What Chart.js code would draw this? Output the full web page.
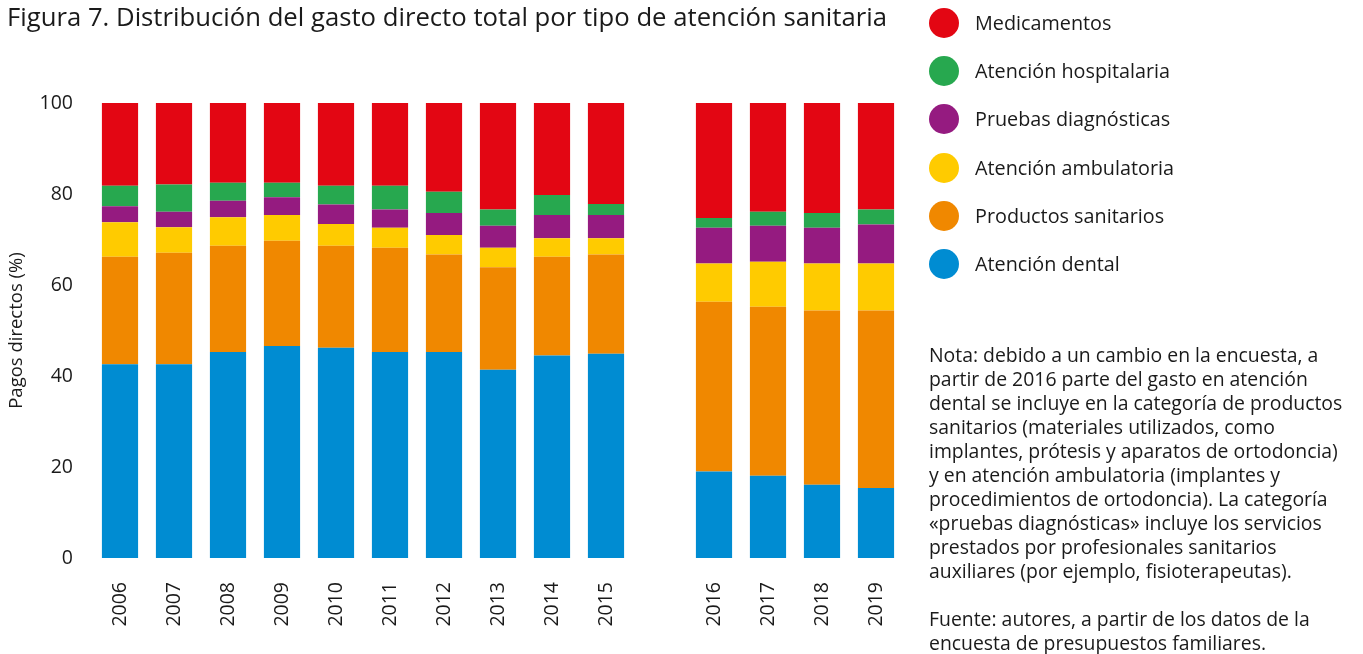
<!DOCTYPE html>
<html>
<head>
    <meta charset="utf-8" />
    <title>Figura 7</title>
    <script src="https://cdn.jsdelivr.net/npm/chart.js@4"></script>
    <style>
        body { margin: 0; background: #fff; font-family: "Open Sans", sans-serif; color: #1a1a1a; }
        #wrap { position: relative; width: 1363px; height: 654px; overflow: hidden; }
        #chart { position: absolute; left: 0; top: 0; }
        #title { position: absolute; left: 7px; top: 0px; font-size: 25.7px; line-height: 34px; white-space: nowrap; }
        #legend { position: absolute; left: 929px; top: 8px; }
        .item { height: 48.2px; display: flex; align-items: flex-start; font-size: 19.8px; line-height: 30px; white-space: nowrap; }
        .dot { width: 30px; height: 30px; border-radius: 50%; margin-right: 16px; }
        #note { position: absolute; left: 929px; top: 343px; font-size: 19.4px; line-height: 24px; white-space: pre; }
    </style>
</head>
<body>
<div id="wrap">
    <canvas id="chart" width="1363" height="654"></canvas>
    <div id="title">Figura 7. Distribución del gasto directo total por tipo de atención sanitaria</div>
    <div id="legend"></div>
    <div id="note"></div>
</div>

<script>
    // blank slot between 2015 and 2016 marks the survey change
    const years = ['2006', '2007', '2008', '2009', '2010', '2011', '2012', '2013', '2014', '2015', '', '2016', '2017', '2018', '2019'];

    const dental       = [42.6, 42.6, 45.3, 46.6, 46.2, 45.3, 45.3, 41.4, 44.5, 44.9, null, 19.0, 18.1, 16.1, 15.4];
    const productos    = [23.6, 24.5, 23.3, 23.1, 22.4, 22.9, 21.4, 22.5, 21.7, 21.8, null, 37.3, 37.1, 38.3, 39.0];
    const ambulatoria  = [7.6, 5.6, 6.3, 5.7, 4.8, 4.4, 4.3, 4.3, 4.1, 3.6, null, 8.4, 9.9, 10.3, 10.3];
    const pruebas      = [3.5, 3.4, 3.6, 3.9, 4.3, 4.0, 4.8, 4.8, 5.1, 5.1, null, 7.9, 7.9, 7.9, 8.6];
    const hospitalaria = [4.5, 6.0, 4.0, 3.2, 4.1, 5.2, 4.7, 3.6, 4.4, 2.4, null, 2.1, 3.1, 3.2, 3.3];
    const medicamentos = [18.2, 17.9, 17.5, 17.5, 18.2, 18.2, 19.5, 23.4, 20.2, 22.2, null, 25.3, 23.9, 24.2, 23.4];

    const yTicks = [0, 20, 40, 60, 80, 100];

    const series = [
        { label: 'Atención dental', data: dental, color: '#008cd2' },
        { label: 'Productos sanitarios', data: productos, color: '#f08800' },
        { label: 'Atención ambulatoria', data: ambulatoria, color: '#ffcb00' },
        { label: 'Pruebas diagnósticas', data: pruebas, color: '#951b80' },
        { label: 'Atención hospitalaria', data: hospitalaria, color: '#27a84f' },
        { label: 'Medicamentos', data: medicamentos, color: '#e30613' }
    ];

    const noteLines = [
        'Nota: debido a un cambio en la encuesta, a',
        'partir de 2016 parte del gasto en atención',
        'dental se incluye en la categoría de productos',
        'sanitarios (materiales utilizados, como',
        'implantes, prótesis y aparatos de ortodoncia)',
        'y en atención ambulatoria (implantes y',
        'procedimientos de ortodoncia). La categoría',
        '«pruebas diagnósticas» incluye los servicios',
        'prestados por profesionales sanitarios',
        'auxiliares (por ejemplo, fisioterapeutas).',
        '',
        'Fuente: autores, a partir de los datos de la',
        'encuesta de presupuestos familiares.'
    ];

    function buildLegend() {
        const box = document.getElementById('legend');
        series.slice().reverse().forEach((s) => {
            const row = document.createElement('div');
            row.className = 'item';
            const dot = document.createElement('span');
            dot.className = 'dot';
            dot.style.background = s.color;
            const txt = document.createElement('span');
            txt.textContent = s.label;
            row.appendChild(dot);
            row.appendChild(txt);
            box.appendChild(row);
        });
        document.getElementById('note').textContent = noteLines.join('\n');
    }

    function drawChart() {
        const ctx = document.getElementById('chart');
        const font = { family: '"Open Sans", sans-serif', size: 19.5 };
        new Chart(ctx, {
            type: 'bar',
            data: {
                labels: years,
                datasets: series.map((s) => ({
                    label: s.label,
                    data: s.data,
                    backgroundColor: s.color,
                    borderWidth: 0,
                    barPercentage: 0.67,
                    categoryPercentage: 1
                }))
            },
            options: {
                responsive: false,
                animation: false,
                layout: { padding: { top: 103, right: 460, bottom: 0, left: 0 } },
                plugins: { legend: { display: false }, tooltip: { enabled: false } },
                scales: {
                    x: {
                        stacked: true,
                        grid: { display: false, drawTicks: false },
                        border: { display: false },
                        ticks: { color: '#1a1a1a', font: font, maxRotation: 90, minRotation: 90, autoSkip: false, padding: 24 },
                        afterFit: (scale) => { scale.height = 96; }
                    },
                    y: {
                        stacked: true,
                        min: 0,
                        max: 100,
                        grid: { display: false, drawTicks: false },
                        border: { display: false },
                        ticks: { color: '#1a1a1a', font: font, padding: 20, stepSize: 20 },
                        afterBuildTicks: (scale) => { scale.ticks = yTicks.map((v) => ({ value: v })); },
                        title: { display: true, text: 'Pagos directos (%)', color: '#1a1a1a', font: { family: '"Open Sans", sans-serif', size: 18.5 }, padding: { top: 6, bottom: 0 } },
                        afterFit: (scale) => { scale.width = 93; }
                    }
                }
            }
        });
    }

    buildLegend();
    drawChart();
</script>
</body>
</html>
